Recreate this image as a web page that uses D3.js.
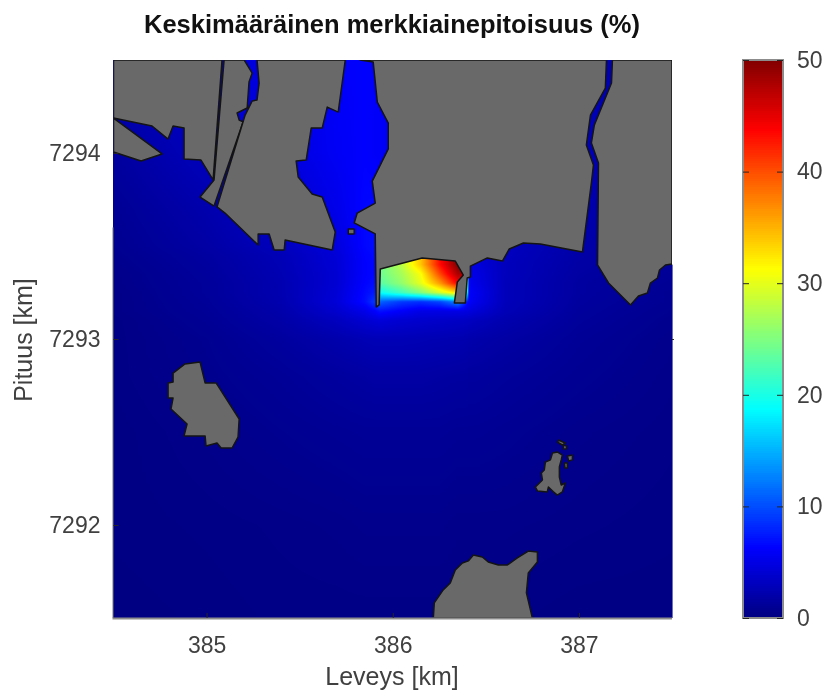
<!DOCTYPE html>
<html>
<head>
<meta charset="utf-8">
<script src="https://cdn.jsdelivr.net/npm/d3@7"></script>
<style>
  html, body { margin: 0; padding: 0; background: #fff; }
  #chart { position: relative; width: 824px; height: 691px; overflow: hidden; filter: blur(0.4px); }
  #chart canvas, #chart svg { position: absolute; left: 0; top: 0; }
</style>
</head>
<body>
<div id="chart"></div>
<script>
// tick labels
const xTicks = [385, 386, 387];
const yTicks = [7292, 7293, 7294];
const barTicks = [0, 10, 20, 30, 40, 50];

// field sample positions (km), tighter around the walls of the bay
const fieldX = [384.5, 385, 385.4, 385.7, 385.85, 385.905, 385.93, 386.05, 386.15, 386.25, 386.35, 386.39, 386.41, 386.45, 386.6, 387, 387.5];
const fieldY = [7294.5, 7294, 7293.7, 7293.5, 7293.45, 7293.4, 7293.35, 7293.3, 7293.25, 7293.2, 7293.15, 7293.1, 7293, 7292.8, 7292.5, 7292, 7291.5];

// tracer concentration (%), one row per fieldY
const fieldValues = [
  [2.5, 4.0, 5.0, 6.0, 6.2, 6.0, 6.0, 5.0, 4.0, 3.5, 3.0, 3.0, 3.0, 3.0, 3.0, 2.8, 2.0],
  [1.5, 3.0, 4.5, 5.8, 6.2, 6.0, 6.0, 5.0, 4.0, 3.5, 3.0, 3.0, 3.0, 3.0, 3.0, 2.6, 1.8],
  [1.0, 2.2, 3.6, 5.2, 6.5, 6.6, 6.0, 5.0, 4.0, 3.5, 3.2, 3.0, 3.0, 3.0, 2.8, 2.2, 1.5],
  [0.8, 1.8, 3.0, 4.6, 6.5, 6.8, 24, 28, 34, 43, 50, 50, 4.2, 4.0, 3.2, 2.0, 1.3],
  [0.7, 1.6, 2.7, 4.3, 6.3, 6.6, 24, 28, 34, 43, 50, 50, 4.4, 4.2, 3.1, 1.9, 1.2],
  [0.6, 1.5, 2.6, 4.2, 6.2, 6.5, 24, 28, 34, 43, 50, 50, 4.8, 4.5, 3.0, 1.8, 1.2],
  [0.5, 1.4, 2.5, 4.1, 6.2, 6.5, 24, 27, 31, 40, 48, 48, 5.2, 4.8, 3.0, 1.7, 1.1],
  [0.5, 1.3, 2.4, 4.1, 6.3, 6.8, 23, 26, 30, 36, 44, 44, 5.6, 5.0, 2.9, 1.6, 1.0],
  [0.4, 1.3, 2.4, 4.2, 6.6, 7.5, 19, 22, 25, 29, 33, 33, 6.0, 5.4, 2.9, 1.6, 0.9],
  [0.4, 1.2, 2.3, 4.3, 6.8, 9.0, 11, 9.0, 8.5, 9.5, 13, 8.0, 6.0, 5.2, 2.9, 1.5, 0.9],
  [0.4, 1.1, 2.1, 3.8, 5.2, 6.2, 7.0, 6.0, 5.0, 5.0, 5.0, 4.8, 4.6, 4.2, 2.7, 1.4, 0.8],
  [0.3, 1.0, 1.9, 3.1, 4.0, 4.3, 4.4, 4.0, 3.8, 3.6, 3.4, 3.3, 3.2, 3.0, 2.3, 1.3, 0.7],
  [0.3, 0.8, 1.5, 2.2, 2.6, 2.7, 2.7, 2.7, 2.6, 2.5, 2.4, 2.3, 2.2, 2.1, 1.8, 1.1, 0.6],
  [0.3, 0.7, 1.1, 1.5, 1.7, 1.8, 1.8, 1.8, 1.8, 1.7, 1.6, 1.6, 1.5, 1.5, 1.3, 0.9, 0.5],
  [0.2, 0.5, 0.8, 1.0, 1.1, 1.1, 1.1, 1.1, 1.1, 1.1, 1.0, 1.0, 1.0, 1.0, 0.9, 0.6, 0.4],
  [0.2, 0.3, 0.4, 0.5, 0.6, 0.6, 0.6, 0.6, 0.6, 0.6, 0.5, 0.5, 0.5, 0.5, 0.5, 0.4, 0.3],
  [0.1, 0.2, 0.3, 0.3, 0.3, 0.3, 0.3, 0.3, 0.3, 0.3, 0.3, 0.3, 0.3, 0.3, 0.3, 0.2, 0.2]
];

// colormap stops (jet)
const jetValues = [0, 6.25, 18.75, 31.25, 43.75, 50];
const jetColors = ["#000080", "#0000ff", "#00ffff", "#ffff00", "#ff0000", "#800000"];

// coastline polygons (km)
const landA = [[384.5,7294.5],[385.083,7294.5],[385.035,7293.855],[384.970,7293.962],[384.879,7293.968],[384.879,7294.134],[384.820,7294.145],[384.793,7294.075],[384.707,7294.145],[384.5,7294.188]];
const landB = [[384.5,7294.188],[384.761,7293.995],[384.648,7293.957],[384.5,7294.005]];
const landC = [[385.094,7294.5],[385.040,7293.855],[384.965,7293.763],[385.040,7293.715],[385.196,7294.167],[385.175,7294.177],[385.164,7294.215],[385.218,7294.242],[385.228,7294.382],[385.245,7294.430],[385.202,7294.5]];
const landD = [[385.271,7294.5],[385.282,7294.376],[385.271,7294.285],[385.245,7294.280],[385.207,7294.204],[385.056,7293.710],[385.099,7293.677],[385.277,7293.505],[385.277,7293.565],[385.336,7293.565],[385.363,7293.479],[385.417,7293.479],[385.422,7293.532],[385.675,7293.479],[385.691,7293.575],[385.621,7293.763],[385.567,7293.780],[385.492,7293.871],[385.481,7293.957],[385.535,7293.962],[385.562,7294.134],[385.621,7294.134],[385.648,7294.247],[385.707,7294.220],[385.745,7294.5]];
const landE = [[385.825,7294.5],[385.895,7294.489],[385.917,7294.274],[385.976,7294.161],[385.976,7294.022],[385.890,7293.849],[385.906,7293.731],[385.809,7293.677],[385.793,7293.624],[385.906,7293.565],[385.911,7293.172],[385.927,7293.183],[385.933,7293.376],[386.158,7293.436],[386.336,7293.419],[386.379,7293.344],[386.347,7293.307],[386.331,7293.194],[386.390,7293.194],[386.400,7293.328],[386.417,7293.333],[386.417,7293.392],[386.508,7293.436],[386.589,7293.419],[386.626,7293.484],[386.702,7293.516],[386.793,7293.511],[387.019,7293.468],[387.067,7293.839],[387.078,7293.935],[387.040,7294.043],[387.062,7294.204],[387.142,7294.349],[387.148,7294.5]];
const landF = [[387.180,7294.5],[387.175,7294.376],[387.083,7294.151],[387.067,7294.054],[387.105,7293.946],[387.100,7293.398],[387.159,7293.301],[387.277,7293.183],[387.320,7293.231],[387.368,7293.247],[387.384,7293.301],[387.422,7293.328],[387.433,7293.371],[387.465,7293.398],[387.5,7293.403],[387.5,7294.5]];
const islet = [[385.761,7293.591],[385.793,7293.591],[385.793,7293.565],[385.761,7293.565]];
const westIsland = [[384.965,7292.876],[384.884,7292.866],[384.820,7292.817],[384.820,7292.769],[384.793,7292.764],[384.793,7292.683],[384.820,7292.683],[384.809,7292.624],[384.895,7292.543],[384.879,7292.479],[384.992,7292.479],[384.997,7292.425],[385.056,7292.441],[385.078,7292.414],[385.137,7292.414],[385.169,7292.473],[385.175,7292.570],[385.051,7292.764],[384.992,7292.764]];
const southIsland = [[386.218,7291.5],[386.223,7291.581],[386.271,7291.651],[386.309,7291.688],[386.336,7291.758],[386.374,7291.796],[386.406,7291.807],[386.433,7291.839],[386.481,7291.828],[386.513,7291.801],[386.567,7291.785],[386.616,7291.785],[386.669,7291.823],[386.728,7291.860],[386.777,7291.855],[386.777,7291.801],[386.728,7291.742],[386.718,7291.635],[386.750,7291.5]];
const rockMain = [[386.858,7292.387],[386.847,7292.350],[386.820,7292.339],[386.814,7292.296],[386.798,7292.280],[386.804,7292.242],[386.766,7292.204],[386.777,7292.183],[386.830,7292.178],[386.836,7292.204],[386.863,7292.178],[386.884,7292.161],[386.911,7292.178],[386.927,7292.226],[386.905,7292.215],[386.895,7292.258],[386.895,7292.312],[386.905,7292.350],[386.911,7292.376],[386.884,7292.393]];
const rock1 = [[386.890,7292.457],[386.927,7292.441],[386.911,7292.430],[386.885,7292.445]];
const rock2 = [[386.917,7292.430],[386.933,7292.425],[386.933,7292.409],[386.917,7292.409]];
const rock3 = [[386.938,7292.371],[386.965,7292.376],[386.965,7292.350],[386.945,7292.344]];
const rock4 = [[386.922,7292.333],[386.938,7292.333],[386.938,7292.307],[386.925,7292.307]];
const landPolygons = [landA, landB, landC, landD, landE, landF, islet, westIsland, southIsland, rockMain, rock1, rock2, rock3, rock4];

const plot = { left: 113.5, right: 672, top: 60, bottom: 618 };
const bar = { left: 743, right: 783 };

const x = d3.scaleLinear().domain([384.5, 387.5]).range([plot.left, plot.right]);
const y = d3.scaleLinear().domain([7291.5, 7294.5]).range([plot.bottom, plot.top]);
const c = d3.scaleLinear().domain([0, 50]).range([plot.bottom, plot.top]);
const jet = d3.scaleLinear().domain(jetValues).range(jetColors).clamp(true);

const chart = d3.select("#chart");

// field is painted on a canvas under the svg
const canvas = chart.append("canvas").attr("width", 824).attr("height", 691).node();
const ctx = canvas.getContext("2d");
const yAsc = fieldY.slice().reverse();

function fieldAt(kx, ky) {
  const i = Math.min(Math.max(d3.bisectRight(fieldX, kx) - 1, 0), fieldX.length - 2);
  const ja = Math.min(Math.max(d3.bisectRight(yAsc, ky) - 1, 0), yAsc.length - 2);
  const j1 = fieldY.length - 1 - ja;
  const j2 = j1 - 1;
  const tx = (kx - fieldX[i]) / (fieldX[i + 1] - fieldX[i]);
  const ty = (ky - yAsc[ja]) / (yAsc[ja + 1] - yAsc[ja]);
  const low = fieldValues[j1][i] * (1 - tx) + fieldValues[j1][i + 1] * tx;
  const high = fieldValues[j2][i] * (1 - tx) + fieldValues[j2][i + 1] * tx;
  return low * (1 - ty) + high * ty;
}

for (let py = Math.floor(plot.top); py < plot.bottom; py++) {
  for (let px = Math.floor(plot.left); px < plot.right; px++) {
    ctx.fillStyle = jet(fieldAt(x.invert(px + 0.5), y.invert(py + 0.5)));
    ctx.fillRect(px, py, 1, 1);
  }
}

const svg = chart.append("svg")
  .attr("width", 824)
  .attr("height", 691)
  .style("font-family", "'Liberation Sans', Arial, sans-serif");

svg.append("clipPath").attr("id", "plot-clip")
  .append("rect")
  .attr("x", plot.left)
  .attr("y", plot.top)
  .attr("width", plot.right - plot.left)
  .attr("height", plot.bottom - plot.top);

const line = d3.line().x(d => x(d[0])).y(d => y(d[1])).curve(d3.curveLinearClosed);

svg.append("g")
  .attr("clip-path", "url(#plot-clip)")
  .selectAll("path")
  .data(landPolygons)
  .enter()
  .append("path")
  .attr("d", line)
  .attr("fill", "#696969")
  .attr("stroke", "#141414")
  .attr("stroke-width", 1.5)
  .attr("stroke-linejoin", "round");

// colorbar
const barStops = d3.range(0, 50, 50 / 256);
svg.append("g")
  .attr("shape-rendering", "crispEdges")
  .selectAll("rect")
  .data(barStops)
  .enter()
  .append("rect")
  .attr("x", bar.left)
  .attr("width", bar.right - bar.left)
  .attr("y", d => c(d + 50 / 256))
  .attr("height", d => c(d) - c(d + 50 / 256) + 1)
  .attr("fill", d => jet(d));

const tickColor = "#262626";
const labelColor = "#404040";

function styleAxis(g) {
  g.select(".domain").remove();
  g.selectAll("line").attr("stroke", tickColor);
  g.selectAll("text")
    .attr("fill", labelColor)
    .style("font-size", "23px")
    .style("font-family", "'Liberation Sans', Arial, sans-serif");
}

// box lines sit under the ticks, only bottom and lower left show in the original
svg.append("line")
  .attr("x1", plot.left - 1).attr("x2", plot.right)
  .attr("y1", plot.bottom + 0.5).attr("y2", plot.bottom + 0.5)
  .attr("stroke", "#8c8c8c").attr("stroke-width", 2);

svg.append("line")
  .attr("x1", plot.left - 0.5).attr("x2", plot.left - 0.5)
  .attr("y1", y(7293.6)).attr("y2", plot.bottom)
  .attr("stroke", "#7a7a7a").attr("stroke-width", 1);

svg.append("line")
  .attr("x1", plot.right + 0.5).attr("x2", plot.right + 0.5)
  .attr("y1", y(7293.4)).attr("y2", plot.bottom)
  .attr("stroke", "#6f6fc0").attr("stroke-width", 1);

svg.append("g")
  .attr("transform", `translate(0,${plot.bottom})`)
  .call(d3.axisBottom(x).tickValues(xTicks).tickFormat(d3.format("d")).tickSizeInner(-5).tickPadding(19))
  .call(styleAxis);

svg.append("g")
  .attr("transform", `translate(${plot.left},0)`)
  .call(d3.axisLeft(y).tickValues(yTicks).tickFormat(d3.format("d")).tickSizeInner(-5).tickPadding(13))
  .call(styleAxis);

// only the 7293 tick pokes out on the right
svg.append("g")
  .attr("transform", `translate(${plot.right},0)`)
  .call(d3.axisRight(y).tickValues([7293]).tickFormat("").tickSizeInner(2))
  .call(styleAxis);

// colorbar box and ticks
svg.append("rect")
  .attr("x", bar.left)
  .attr("y", plot.top)
  .attr("width", bar.right - bar.left)
  .attr("height", plot.bottom - plot.top)
  .attr("fill", "none")
  .attr("stroke", "#8c8c8c")
  .attr("stroke-width", 2);

svg.append("g")
  .attr("transform", `translate(${bar.right},0)`)
  .call(d3.axisRight(c).tickValues(barTicks).tickSizeInner(-6).tickPadding(14))
  .call(styleAxis);

svg.append("g")
  .attr("transform", `translate(${bar.left},0)`)
  .call(d3.axisLeft(c).tickValues(barTicks).tickFormat("").tickSizeInner(-6))
  .call(styleAxis);

svg.append("text")
  .attr("x", 392)
  .attr("y", 33)
  .attr("text-anchor", "middle")
  .attr("fill", "#111")
  .style("font-size", "25.5px")
  .style("font-weight", "bold")
  .text("Keskimääräinen merkkiainepitoisuus (%)");

svg.append("text")
  .attr("x", 392)
  .attr("y", 685)
  .attr("text-anchor", "middle")
  .attr("fill", labelColor)
  .style("font-size", "25px")
  .text("Leveys [km]");

svg.append("text")
  .attr("transform", "translate(32,340) rotate(-90)")
  .attr("text-anchor", "middle")
  .attr("fill", labelColor)
  .style("font-size", "25px")
  .text("Pituus [km]");
</script>
</body>
</html>
